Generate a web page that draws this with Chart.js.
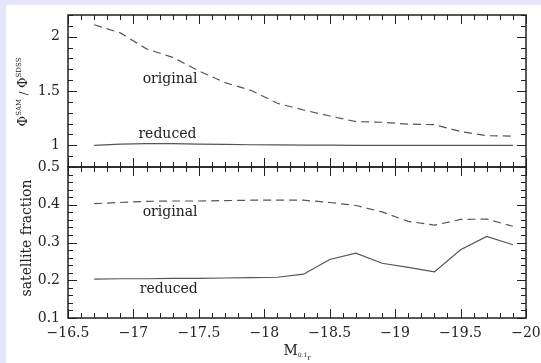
<!DOCTYPE html>
<html>
<head>
<meta charset="utf-8">
<script src="https://cdn.jsdelivr.net/npm/chart.js@4/dist/chart.umd.min.js"></script>
<style>
  body { margin:0; background:#e6e6fa; }
  #box { position:absolute; left:6px; top:5px; width:535px; height:358px; background:#fff; }
  canvas { position:absolute; left:0; top:0; }
</style>
</head>
<body>
<div id="box"></div>
<canvas id="topChart" width="541" height="363"></canvas>
<canvas id="botChart" width="541" height="363"></canvas>
<script>
// magnitude bins (x)
var mag = [-16.7, -16.9, -17.1, -17.3, -17.5, -17.7, -17.9, -18.1, -18.3, -18.5, -18.7, -18.9, -19.1, -19.3, -19.5, -19.7, -19.9];

// top panel: Phi_SAM / Phi_SDSS
var ratioOriginal = [2.11, 2.035, 1.888, 1.81, 1.685, 1.577, 1.505, 1.387, 1.325, 1.27, 1.218, 1.212, 1.195, 1.19, 1.127, 1.088, 1.085];
var ratioReduced  = [1.0, 1.01, 1.015, 1.015, 1.01, 1.008, 1.005, 1.003, 1.002, 1.002, 1.0, 1.0, 1.0, 1.0, 1.0, 1.0, 1.0];

// bottom panel: satellite fraction
var fracOriginal = [0.403, 0.406, 0.409, 0.41, 0.41, 0.411, 0.412, 0.412, 0.412, 0.406, 0.398, 0.381, 0.356, 0.346, 0.361, 0.362, 0.343];
var fracReduced  = [0.203, 0.204, 0.204, 0.205, 0.205, 0.206, 0.207, 0.208, 0.216, 0.255, 0.272, 0.245, 0.234, 0.222, 0.281, 0.316, 0.294];

// tick labels
var xTicks = [-16.5, -17, -17.5, -18, -18.5, -19, -19.5, -20];
var topYTicks = [1, 1.5, 2];
var botYTicks = [0.1, 0.2, 0.3, 0.4, 0.5];

var serif = 'DejaVu Serif';
var ink = '#222';
var lineCol = '#555';

function pts(ys){
  return mag.map(function(m, i){ return {x: m, y: ys[i]}; });
}
function fmt(v){
  var s = String(Math.round(v*100)/100);
  return v < 0 ? '\u2212' + s.substring(1) : s;
}

// frame + inward ticks on every side, drawn through the chart's scales
function frame(o){
  return {
    id: 'frame',
    afterDraw: function(chart){
      var c = chart.ctx, a = chart.chartArea, xs = chart.scales.x, ys = chart.scales.y;
      c.save();
      c.strokeStyle = ink;
      c.lineWidth = 1.5;
      c.strokeRect(a.left, a.top, a.right - a.left, a.bottom - a.top);
      c.lineWidth = 1;
      c.beginPath();
      var i, v, p, len;
      for (i = 0; ; i++) {
        v = -16.5 - i*0.1;
        if (v < -20.001) break;
        p = Math.round(xs.getPixelForValue(v)) + 0.5;
        len = (i % 5 == 0) ? 9 : 5;
        c.moveTo(p, a.top); c.lineTo(p, a.top + len);
        c.moveTo(p, a.bottom); c.lineTo(p, a.bottom - len);
      }
      for (i = 0; ; i++) {
        v = o.ymin + i*o.minor;
        if (v > o.ymax + 1e-6) break;
        p = Math.round(ys.getPixelForValue(v)) + 0.5;
        var r = v / o.major;
        len = Math.abs(r - Math.round(r)) < 1e-6 ? 9 : 5;
        c.moveTo(a.left, p); c.lineTo(a.left + len, p);
        c.moveTo(a.right, p); c.lineTo(a.right - len, p);
      }
      c.stroke();

      // in-plot labels
      c.fillStyle = ink;
      c.font = '14px "' + serif + '"';
      c.textAlign = 'center';
      c.textBaseline = 'middle';
      o.notes.forEach(function(n){
        c.fillText(n[0], xs.getPixelForValue(n[1]), ys.getPixelForValue(n[2]));
      });
      if (o.title) o.title(c, a);
      c.restore();
    }
  };
}

// draws a run of text pieces [text, size, raise] centred on 0
function runText(c, parts){
  var total = 0;
  parts.forEach(function(p){ c.font = p[1] + 'px "' + serif + '"'; p.w = c.measureText(p[0]).width; total += p.w; });
  var x = -total/2;
  c.textAlign = 'left';
  c.textBaseline = 'alphabetic';
  parts.forEach(function(p){
    c.font = p[1] + 'px "' + serif + '"';
    c.fillText(p[0], x, 5 + p[2]);
    x += p.w;
  });
}

function baseOptions(pad, yMin, yMax, yTickList, showX){
  return {
    responsive: false,
    animation: false,
    layout: { padding: pad },
    plugins: { legend: { display: false }, tooltip: { enabled: false } },
    elements: { point: { radius: 0 }, line: { tension: 0 } },
    scales: {
      x: {
        type: 'linear', min: -20, max: -16.5, reverse: true, display: showX,
        afterBuildTicks: function(s){ s.ticks = xTicks.map(function(v){ return {value: v}; }); },
        afterFit: function(s){ s.height = showX ? 30 : 0; s.paddingLeft = 0; s.paddingRight = 0; },
        grid: { display: false, drawTicks: false }, border: { display: false },
        ticks: { font: { family: serif, size: 14 }, color: ink, padding: 7, maxRotation: 0, autoSkip: false, callback: fmt }
      },
      y: {
        min: yMin, max: yMax,
        afterBuildTicks: function(s){ s.ticks = yTickList.map(function(v){ return {value: v}; }); },
        afterFit: function(s){ s.width = 48; s.paddingTop = 0; s.paddingBottom = 0; },
        grid: { display: false, drawTicks: false }, border: { display: false },
        ticks: { font: { family: serif, size: 14 }, color: ink, padding: 8, autoSkip: false, callback: fmt }
      }
    }
  };
}

var topChart = new Chart(document.getElementById('topChart'), {
  type: 'line',
  data: {
    datasets: [
      { data: pts(ratioOriginal), borderColor: lineCol, borderWidth: 1.2, borderDash: [8, 5], fill: false },
      { data: pts(ratioReduced), borderColor: lineCol, borderWidth: 1.2, fill: false }
    ]
  },
  options: baseOptions({left: 20, right: 15, top: 15, bottom: 196}, 0.8, 2.2, topYTicks, false),
  plugins: [frame({
    ymin: 0.8, ymax: 2.2, minor: 0.1, major: 0.5,
    notes: [['original', -17.28, 1.608], ['reduced', -17.26, 1.098]],
    title: function(c, a){
      c.translate(22, 92);
      c.rotate(-Math.PI/2);
      runText(c, [['\u03A6', 13, 0], ['SAM', 7, -6], [' / ', 11, 0], ['\u03A6', 13, 0], ['SDSS', 7, -6]]);
    }
  })]
});

var botChart = new Chart(document.getElementById('botChart'), {
  type: 'line',
  data: {
    datasets: [
      { data: pts(fracOriginal), borderColor: lineCol, borderWidth: 1.2, borderDash: [8, 5], fill: false },
      { data: pts(fracReduced), borderColor: lineCol, borderWidth: 1.2, fill: false }
    ]
  },
  options: baseOptions({left: 20, right: 15, top: 167, bottom: 15}, 0.1, 0.5, botYTicks, true),
  plugins: [frame({
    ymin: 0.1, ymax: 0.5, minor: 0.02, major: 0.1,
    notes: [['original', -17.28, 0.381], ['reduced', -17.27, 0.1765]],
    title: function(c, a){
      c.save();
      c.translate(27, 238);
      c.rotate(-Math.PI/2);
      c.textAlign = 'center';
      c.textBaseline = 'middle';
      c.font = '14px "' + serif + '"';
      c.fillText('satellite fraction', 0, 0);
      c.restore();
      // x axis title M_0.1r
      c.translate((a.left + a.right)/2, 350);
      runText(c, [['M', 14, 0], ['0.1', 6, 2], ['r', 7, 5]]);
    }
  })]
});
</script>
</body>
</html>
